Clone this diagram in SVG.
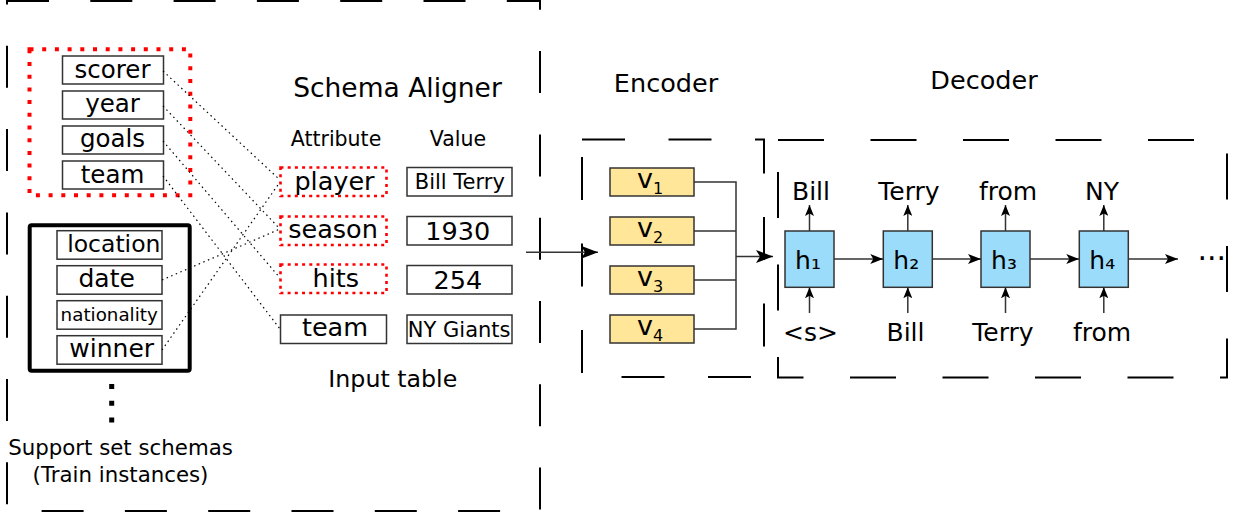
<svg xmlns="http://www.w3.org/2000/svg" width="1236" height="514" viewBox="0 0 1236 514">
<style>
.t{font-family:"DejaVu Sans",Verdana,sans-serif;fill:#000}
.m{text-anchor:middle}
.dbox{fill:none;stroke:#000;stroke-width:2}
.box{fill:#fff;stroke:#333;stroke-width:1.5}
.red{fill:#fff;stroke:#f00;stroke-width:2.6;stroke-dasharray:3 4.2}
.enc{fill:#ffe699;stroke:#333;stroke-width:1.5}
.dec{fill:#9bdcfb;stroke:#333;stroke-width:1.5}
.conn{fill:none;stroke:#333;stroke-width:1.5}
.dot{fill:none;stroke:#000;stroke-width:1.2;stroke-dasharray:1.5 3.5}
</style>
<defs>
<marker id="big" markerUnits="userSpaceOnUse" markerWidth="17" markerHeight="13" refX="17" refY="6.5" orient="auto"><path d="M0,0 L17,6.5 L0,13 L4,6.5 z" fill="#000"/></marker>
<marker id="sm" markerUnits="userSpaceOnUse" markerWidth="13" markerHeight="10" refX="13" refY="5" orient="auto"><path d="M0,0 L13,5 L0,10 L3,5 z" fill="#000"/></marker>
<marker id="up" markerUnits="userSpaceOnUse" markerWidth="11" markerHeight="9" refX="11" refY="4.5" orient="auto"><path d="M0,0 L11,4.5 L0,9 L2.5,4.5 z" fill="#000"/></marker>
</defs>

<g id="frames">
<rect class="dbox" x="7" y="1" width="533" height="510" style="stroke-dasharray:42 41.3"/>
<rect class="dbox" x="582" y="139.5" width="182" height="237.5" style="stroke-dasharray:43 43.5"/>
<rect class="dbox" x="778" y="140" width="449" height="237.5" style="stroke-dasharray:46 46.5"/>
</g>

<g id="titles">
<text class="t m" x="397.5" y="97" font-size="26.5">Schema Aligner</text>
<text class="t m" x="666" y="92" font-size="25.5">Encoder</text>
<text class="t m" x="984" y="89" font-size="25.5">Decoder</text>
<text class="t m" x="336" y="145.7" font-size="20.5">Attribute</text>
<text class="t m" x="458" y="145.7" font-size="20.5">Value</text>
<text class="t m" x="392.8" y="386.7" font-size="23.7">Input table</text>
<text class="t m" x="120.5" y="455" font-size="21.3">Support set schemas</text>
<text class="t m" x="120.5" y="481.7" font-size="21.3">(Train instances)</text>
</g>

<g id="query-schema">
<rect class="red" x="29.5" y="49.3" width="160.8" height="146" style="stroke-width:4;stroke-dasharray:4 8.7"/>
<g id="scorer"><rect class="box" x="62.5" y="56" width="101" height="28"/><text class="t m" x="112.5" y="77.5" font-size="24.5">scorer</text></g>
<g id="year"><rect class="box" x="62.5" y="91" width="101" height="28"/><text class="t m" x="112.5" y="112" font-size="24.5">year</text></g>
<g id="goals"><rect class="box" x="62.5" y="126" width="101" height="28"/><text class="t m" x="112.5" y="147" font-size="24.5">goals</text></g>
<g id="team-l"><rect class="box" x="62.5" y="161" width="101" height="28"/><text class="t m" x="112.5" y="182.5" font-size="24.5">team</text></g>
</g>

<g id="support-schema">
<rect x="29.7" y="225.3" width="160" height="145.4" rx="2" fill="none" stroke="#000" stroke-width="4"/>
<g id="location"><rect class="box" x="57" y="230.7" width="105" height="28.5"/><text class="t m" x="113.8" y="251.7" font-size="23.5">location</text></g>
<g id="date"><rect class="box" x="57" y="265.7" width="105" height="28.5"/><text class="t m" x="106.7" y="287.3" font-size="25">date</text></g>
<g id="nationality"><rect class="box" x="57" y="300.7" width="105" height="28.5"/><text class="t m" x="109.2" y="321" font-size="18.3">nationality</text></g>
<g id="winner"><rect class="box" x="57" y="335.7" width="105" height="28.5"/><text class="t m" x="111.7" y="357.3" font-size="25">winner</text></g>
<line x1="111.7" y1="384" x2="111.7" y2="423" stroke="#000" stroke-width="5" stroke-dasharray="5 11.7"/>
</g>

<g id="input-table">
<g id="player"><rect class="red" x="280.5" y="167.5" width="106" height="28.5"/><text class="t m" x="334.5" y="189.5" font-size="25.5">player</text></g>
<g id="season"><rect class="red" x="280.5" y="216.5" width="106" height="28.5"/><text class="t m" x="333" y="238" font-size="25.5">season</text></g>
<g id="hits"><rect class="red" x="280.5" y="264.5" width="106" height="28.5"/><text class="t m" x="335.8" y="286.7" font-size="25.5">hits</text></g>
<g id="team-r"><rect class="box" x="280.5" y="315" width="106" height="28.5"/><text class="t m" x="335" y="336" font-size="25.5">team</text></g>
<g id="v-billterry"><rect class="box" x="407" y="167.5" width="105" height="28.5"/><text class="t m" x="459.8" y="189.3" font-size="21">Bill Terry</text></g>
<g id="v-1930"><rect class="box" x="407" y="216.5" width="105" height="28.5"/><text class="t m" x="457.8" y="240" font-size="25.5">1930</text></g>
<g id="v-254"><rect class="box" x="407" y="265.5" width="105" height="28.5"/><text class="t m" x="457.8" y="288.7" font-size="25.5">254</text></g>
<g id="v-nygiants"><rect class="box" x="407" y="315" width="105" height="28.5"/><text class="t m" x="459.2" y="336.7" font-size="21">NY Giants</text></g>
</g>

<g id="encoder">
<g id="v1"><rect class="enc" x="610" y="168" width="84" height="28"/><text class="t" x="637" y="188.3" font-size="27">v<tspan dy="6" font-size="16">1</tspan></text></g>
<g id="v2"><rect class="enc" x="610" y="217" width="84" height="28"/><text class="t" x="637" y="237.3" font-size="27">v<tspan dy="6" font-size="16">2</tspan></text></g>
<g id="v3"><rect class="enc" x="610" y="266" width="84" height="28"/><text class="t" x="637" y="286.3" font-size="27">v<tspan dy="6" font-size="16">3</tspan></text></g>
<g id="v4"><rect class="enc" x="610" y="315" width="84" height="28"/><text class="t" x="637" y="335.3" font-size="27">v<tspan dy="6" font-size="16">4</tspan></text></g>
</g>

<g id="decoder">
<g id="h1"><rect class="dec" x="785" y="231" width="49" height="56.3"/><text class="t m" x="808" y="269" font-size="25">h₁</text></g>
<g id="h2"><rect class="dec" x="883.3" y="231" width="49" height="56.3"/><text class="t m" x="906.3" y="269" font-size="25">h₂</text></g>
<g id="h3"><rect class="dec" x="981" y="231" width="49" height="56.3"/><text class="t m" x="1004" y="269" font-size="25">h₃</text></g>
<g id="h4"><rect class="dec" x="1079.3" y="231" width="49" height="56.3"/><text class="t m" x="1102.3" y="269" font-size="25">h₄</text></g>
<g id="out-labels">
<text class="t m" x="811" y="200" font-size="25">Bill</text>
<text class="t m" x="909" y="200" font-size="25">Terry</text>
<text class="t m" x="1008" y="200" font-size="25">from</text>
<text class="t m" x="1102" y="200" font-size="25">NY</text>
</g>
<g id="in-labels">
<text class="t m" x="810.5" y="341" font-size="25">&lt;s&gt;</text>
<text class="t m" x="905.5" y="341" font-size="25">Bill</text>
<text class="t m" x="1003" y="341" font-size="25">Terry</text>
<text class="t m" x="1102" y="341" font-size="25">from</text>
</g>
<text class="t" x="1197.5" y="268.5" font-size="30" fill="#222">···</text>
</g>

<g id="connectors">
<line class="dot" x1="163" y1="71" x2="280" y2="180"/>
<line class="dot" x1="163" y1="106" x2="280" y2="229"/>
<line class="dot" x1="163" y1="141" x2="280" y2="278"/>
<line class="dot" x1="163" y1="176" x2="280" y2="329"/>
<line class="dot" x1="162" y1="280" x2="280" y2="229"/>
<line class="dot" x1="162" y1="350" x2="280" y2="182"/>
<line class="conn" x1="526" y1="252.3" x2="598" y2="252.3" marker-end="url(#big)"/>
<path class="conn" d="M694,182 H736 M694,231 H736 M694,280 H736 M694,329 H736 M736,181.3 V329.7"/>
<line class="conn" x1="736" y1="256.5" x2="773" y2="256.5" marker-end="url(#big)"/>
<line class="conn" x1="834" y1="259" x2="883.3" y2="259" marker-end="url(#sm)"/>
<line class="conn" x1="932.3" y1="259" x2="981" y2="259" marker-end="url(#sm)"/>
<line class="conn" x1="1030" y1="259" x2="1079.3" y2="259" marker-end="url(#sm)"/>
<line class="conn" x1="1128.3" y1="259" x2="1178" y2="259" marker-end="url(#sm)"/>
<line class="conn" x1="809.5" y1="231" x2="809.5" y2="205" marker-end="url(#up)"/>
<line class="conn" x1="907.8" y1="231" x2="907.8" y2="205" marker-end="url(#up)"/>
<line class="conn" x1="1005.5" y1="231" x2="1005.5" y2="205" marker-end="url(#up)"/>
<line class="conn" x1="1103.8" y1="231" x2="1103.8" y2="205" marker-end="url(#up)"/>
<line class="conn" x1="809.5" y1="313" x2="809.5" y2="287.3" marker-end="url(#up)"/>
<line class="conn" x1="907.8" y1="313" x2="907.8" y2="287.3" marker-end="url(#up)"/>
<line class="conn" x1="1005.5" y1="313" x2="1005.5" y2="287.3" marker-end="url(#up)"/>
<line class="conn" x1="1103.8" y1="313" x2="1103.8" y2="287.3" marker-end="url(#up)"/>
</g>
</svg>
